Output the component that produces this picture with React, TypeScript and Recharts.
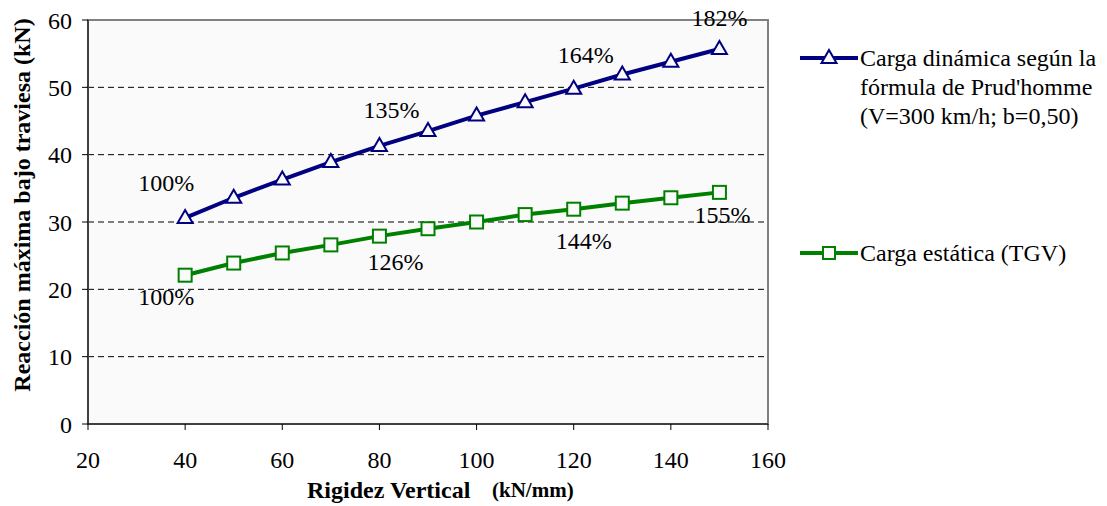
import React from 'react';
import {
  LineChart, Line, XAxis, YAxis, CartesianGrid, ReferenceArea, Customized, Label, LabelList,
} from 'recharts';

const rigidez = [40, 50, 60, 70, 80, 90, 100, 110, 120, 130, 140, 150];
const cargaDinamica = [30.6, 33.6, 36.3, 38.9, 41.3, 43.5, 45.8, 47.8, 49.8, 51.9, 53.8, 55.7];
const cargaEstatica = [22.1, 23.9, 25.4, 26.6, 27.9, 29.0, 30.0, 31.1, 31.9, 32.8, 33.6, 34.4];
const labelsDinamica = ['100%', '', '', '', '135%', '', '', '', '164%', '', '', '182%'];
const labelsEstatica = ['100%', '', '', '', '126%', '', '', '', '144%', '', '', '155%'];
const xTicks = [20, 40, 60, 80, 100, 120, 140, 160];
const yTicks = [0, 10, 20, 30, 40, 50, 60];
const nameDinamica = ['Carga dinámica según la', "fórmula de Prud'homme", '(V=300 km/h; b=0,50)'];
const nameEstatica = 'Carga estática (TGV)';

const data = rigidez.map((x, i) => ({
  x,
  din: cargaDinamica[i],
  est: cargaEstatica[i],
  ldin: labelsDinamica[i],
  lest: labelsEstatica[i],
}));

const BLUE = '#000080';
const GREEN = '#008000';
const FONT = "'Liberation Serif', 'Times New Roman', serif";
const FS = 24;

const offDin = [[-19, -35], [0, 0], [0, 0], [0, 0], [12, -36], [0, 0], [0, 0], [0, 0], [12, -34], [0, 0], [0, 0], [0, -31]];
const offEst = [[-19, 22], [0, 0], [0, 0], [0, 0], [16, 26], [0, 0], [0, 0], [0, 0], [10, 32], [0, 0], [0, 0], [3, 23]];

const Triangle = (props: any) => {
  const { cx, cy } = props;
  if (cx == null || cy == null) return null;
  return (
    <path
      key={`t${props.index}`}
      d={`M${cx},${cy - 8} L${cx + 7.5},${cy + 5} L${cx - 7.5},${cy + 5} Z`}
      fill="#fafafa"
      stroke={BLUE}
      strokeWidth={2}
    />
  );
};

const Square = (props: any) => {
  const { cx, cy } = props;
  if (cx == null || cy == null) return null;
  const s = 6.5;
  return (
    <rect
      key={`s${props.index}`}
      x={cx - s}
      y={cy - s}
      width={s * 2}
      height={s * 2}
      fill="#fafafa"
      stroke={GREEN}
      strokeWidth={2}
    />
  );
};

const makeLabel = (offs: number[][]) => (props: any) => {
  const { x, y, value, index } = props;
  if (!value) return null;
  const [dx, dy] = offs[index];
  return (
    <text
      key={`l${index}`}
      x={x + dx}
      y={y + dy}
      textAnchor="middle"
      dominantBaseline="central"
      style={{ fontFamily: FONT }}
      fontSize={FS}
      fill="#000"
    >
      {value}
    </text>
  );
};

const LegendContent = () => (
  <g transform="translate(800,0)">
    <line x1={0} y1={58} x2={58} y2={58} stroke={BLUE} strokeWidth={4} />
    <path d="M29,50 L36.5,63 L21.5,63 Z" fill="#fafafa" stroke={BLUE} strokeWidth={2} />
    {nameDinamica.map((t, i) => (
      <text key={i} x={60} y={58 + i * 29} dominantBaseline="central" style={{ fontFamily: FONT }} fontSize={FS} fill="#000">
        {t}
      </text>
    ))}
    <line x1={0} y1={253} x2={58} y2={253} stroke={GREEN} strokeWidth={4} />
    <rect x={23} y={247} width={12} height={12} fill="#fafafa" stroke={GREEN} strokeWidth={2} />
    <text x={60} y={253} dominantBaseline="central" style={{ fontFamily: FONT }} fontSize={FS} fill="#000">
      {nameEstatica}
    </text>
  </g>
);

export default function App() {
  return (
    <div style={{ position: 'absolute', left: 0, top: 0, background: '#fff', fontFamily: FONT }}>
      <LineChart
        width={1107}
        height={506}
        data={data}
        margin={{ top: 20, right: 339, bottom: 32, left: 48 }}
        style={{ fontFamily: FONT }}
      >
        <CartesianGrid
          vertical={false}
          horizontal
          stroke="#000"
          strokeDasharray="6 4"
          fill="#fafafa"
          horizontalValues={[10, 20, 30, 40, 50]}
        />
        <ReferenceArea x1={20} x2={160} y1={0} y2={60} fill="none" stroke="#808080" strokeWidth={2} ifOverflow="visible" />
        <XAxis
          dataKey="x"
          type="number"
          domain={[20, 160]}
          ticks={xTicks}
          interval={0}
          height={50}
          axisLine={{ stroke: '#000', strokeWidth: 1 }}
          tickLine={{ stroke: '#000' }}
          tickSize={6}
          tick={{ fill: '#000', fontFamily: FONT, fontSize: FS }}
          tickMargin={21}
        >
          <Label
            content={() => (
              <text y={490} style={{ fontFamily: FONT }} fontWeight="bold" fill="#000" dominantBaseline="central">
                <tspan x={307} fontSize={24}>Rigidez Vertical</tspan>
                <tspan x={492} fontSize={21}>(kN/mm)</tspan>
              </text>
            )}
          />
        </XAxis>
        <YAxis
          type="number"
          domain={[0, 60]}
          ticks={yTicks}
          interval={0}
          width={40}
          axisLine={{ stroke: '#000', strokeWidth: 1 }}
          tickLine={{ stroke: '#000' }}
          tickSize={6}
          tick={{ fill: '#000', fontFamily: FONT, fontSize: FS }}
          tickMargin={10}
        >
          <Label
            content={() => (
              <text
                x={22}
                y={205}
                transform="rotate(-90 22 205)"
                textAnchor="middle"
                dominantBaseline="central"
                style={{ fontFamily: FONT }}
                fontWeight="bold"
                fontSize={24}
                fill="#000"
              >
                Reacción máxima bajo traviesa (kN)
              </text>
            )}
          />
        </YAxis>
        <Customized component={LegendContent} />
        <Line
          dataKey="din"
          name={nameDinamica.join(' ')}
          stroke={BLUE}
          strokeWidth={4}
          dot={Triangle}
          activeDot={false}
          isAnimationActive={false}
          type="linear"
        >
          <LabelList dataKey="ldin" content={makeLabel(offDin)} />
        </Line>
        <Line
          dataKey="est"
          name={nameEstatica}
          stroke={GREEN}
          strokeWidth={4}
          dot={Square}
          activeDot={false}
          isAnimationActive={false}
          type="linear"
        >
          <LabelList dataKey="lest" content={makeLabel(offEst)} />
        </Line>
      </LineChart>
    </div>
  );
}
